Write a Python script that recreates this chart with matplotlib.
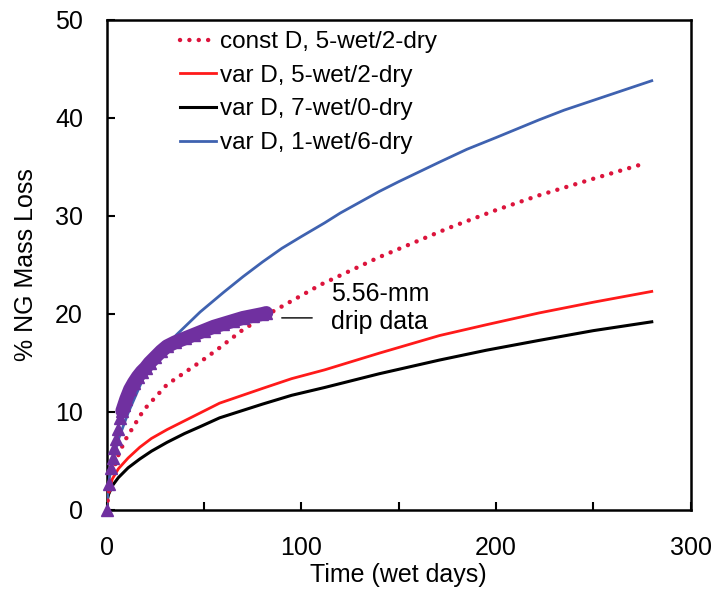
import numpy as np
import matplotlib
matplotlib.use("Agg")
import matplotlib.pyplot as plt
from matplotlib.ticker import MultipleLocator

plt.rcParams['font.family'] = ['Liberation Sans', 'DejaVu Sans']

# const D, 5-wet/2-dry (dotted red)
constD_t = [0, 1, 3, 6, 9.4, 19, 31, 48, 57, 70, 84, 110, 140, 176, 200, 222, 250, 277]
constD_y = [0, 1.8, 3.8, 5.6, 7.1, 10.2, 12.8, 15.1, 16.4, 18.4, 20.1, 23.0, 25.8, 28.8, 30.6, 32.1, 33.8, 35.4]

# var D, 5-wet/2-dry (red)
var52_t = [0, 0.5, 1, 3, 6, 11, 17, 23, 31, 40, 48, 58, 80, 95, 112, 140, 171, 195, 222, 250, 280]
var52_y = [0, 1.5, 2.1, 3.2, 4.2, 5.3, 6.4, 7.3, 8.2, 9.1, 9.9, 10.9, 12.4, 13.4, 14.3, 16.0, 17.8, 18.9, 20.1, 21.2, 22.3]

# var D, 7-wet/0-dry (black)
var70_t = [0, 0.5, 1, 3, 6, 11, 17, 23, 31, 40, 48, 58, 80, 95, 112, 140, 171, 195, 222, 250, 280]
var70_y = [0, 1.2, 1.6, 2.5, 3.3, 4.3, 5.2, 6.0, 6.9, 7.8, 8.5, 9.4, 10.8, 11.7, 12.5, 13.9, 15.3, 16.3, 17.3, 18.3, 19.2]

# var D, 1-wet/6-dry (blue)
var16_t = [0, 1, 3, 6, 11, 20, 28, 36, 48, 60, 70, 80, 90, 100, 112, 120, 130, 140, 150, 171,
           185, 200, 222, 235, 250, 265, 280]
var16_y = [0, 2.8, 5.0, 7.2, 9.9, 14.0, 16.2, 17.9, 20.2, 22.2, 23.8, 25.3, 26.7, 27.9, 29.3, 30.3,
           31.4, 32.5, 33.5, 35.5, 36.8, 38.0, 39.8, 40.8, 41.8, 42.8, 43.8]

# 5.56-mm drip data (purple triangles)
drip_t = [0, 1, 2, 3, 4, 5, 6, 7, 8, 9, 10, 12, 14, 16, 18, 20, 22, 25, 28, 31,
          35, 40, 45, 50, 55, 60, 65, 70, 75, 80, 82]
drip_y = [0, 2.7, 4.3, 5.3, 6.3, 7.2, 8.3, 9.4, 10.1, 10.7, 11.3, 12.3, 13.0, 13.6, 14.1, 14.5,
          15.0, 15.6, 16.2, 16.7, 17.1, 17.5, 17.9, 18.3, 18.7, 19.0, 19.3, 19.6, 19.8, 20.0, 20.1]

fig = plt.figure(figsize=(7.15, 5.98), dpi=100)
ax = fig.add_axes([0.1492, 0.1472, 0.8168, 0.8194])

ax.plot(var70_t, var70_y, color='black', lw=2.2, label='var D, 7-wet/0-dry', zorder=3)
ax.plot(var52_t, var52_y, color='#FF1A1A', lw=2.0, label='var D, 5-wet/2-dry', zorder=3)
ax.plot(var16_t, var16_y, color='#3F62B0', lw=2.0, label='var D, 1-wet/6-dry', zorder=3)
ax.plot(constD_t, constD_y, color='#DC143C', lw=3.2, linestyle=(0, (0.01, 2.1)),
        dash_capstyle='round', label='const D, 5-wet/2-dry', zorder=3)
# dense measurements merge into a thick band after the first week
ax.plot(drip_t[8:], drip_y[8:], color='#7030A0', lw=10, solid_capstyle='round', zorder=4)
ax.plot(drip_t, drip_y, linestyle='none', marker='^', ms=8, color='#7030A0', zorder=5,
        clip_on=False)

ax.annotate('', xy=(88.5, 19.6), xytext=(107, 19.6),
            arrowprops=dict(arrowstyle='-', color='black', lw=1.0))
ax.text(115, 20.65, '5.56-mm\ndrip data', fontsize=18, ha='left', va='center')

ax.set_xlim(0, 300)
ax.set_ylim(0, 50)
ax.xaxis.set_major_locator(MultipleLocator(100))
ax.xaxis.set_minor_locator(MultipleLocator(50))
ax.yaxis.set_major_locator(MultipleLocator(10))
ax.tick_params(axis='both', which='both', direction='in', length=6, width=1.5, labelsize=18)
ax.tick_params(axis='x', which='both', pad=19)
ax.tick_params(axis='y', pad=17)
for s in ax.spines.values():
    s.set_linewidth(1.8)

ax.set_xlabel('Time (wet days)', fontsize=18, labelpad=2)
ax.set_ylabel('% NG Mass Loss', fontsize=18, labelpad=12)

h, l = ax.get_legend_handles_labels()
order = [3, 1, 0, 2]
ax.legend([h[i] for i in order], [l[i] for i in order], loc='upper left',
          bbox_to_anchor=(0.097, 1.012), frameon=False, fontsize=17.5,
          handlelength=1.45, handletextpad=0.2, labelspacing=0.48, borderpad=0.2)

fig.savefig('out.png', dpi=100)
